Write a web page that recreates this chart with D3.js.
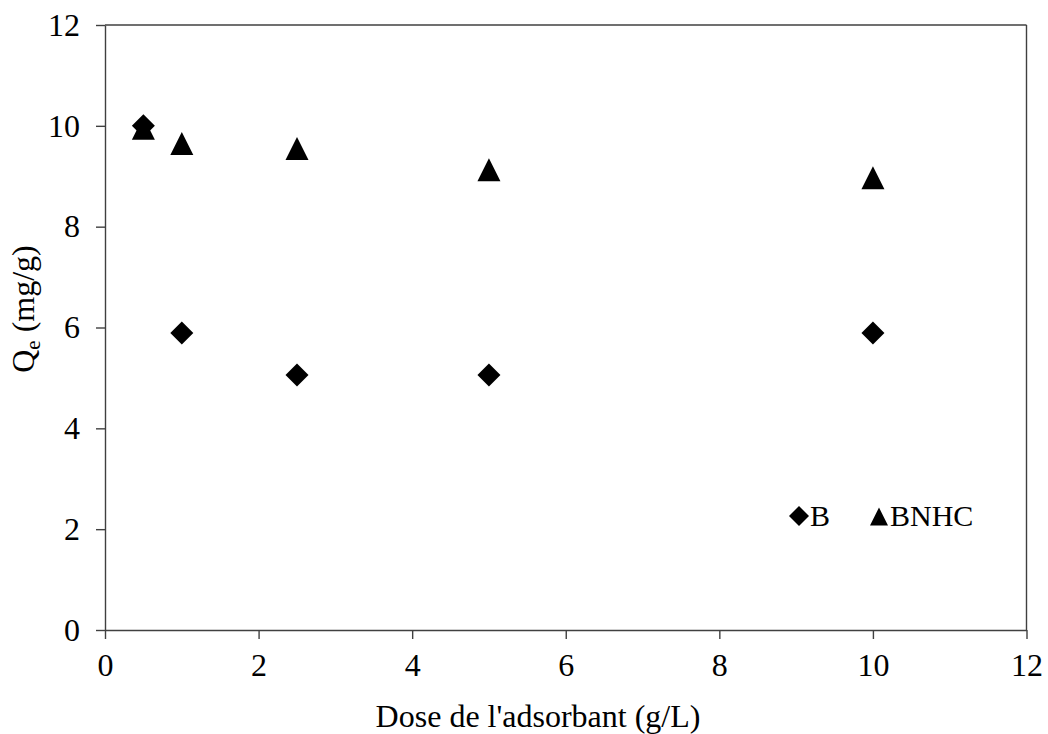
<!DOCTYPE html>
<html>
<head>
<meta charset="utf-8">
<script src="https://cdn.jsdelivr.net/npm/d3@7"></script>
<style>
  html, body { margin: 0; padding: 0; background: #fff; }
  svg { display: block; }
  text { font-family: 'Liberation Serif', 'Times New Roman', serif; fill: #000; }
</style>
</head>
<body>
<svg id="chart" width="1048" height="734"></svg>
<script>
// Adsorbent dose (g/L) and adsorbed quantity Qe (mg/g)
const doses = [0.5, 1, 2.5, 5, 10];
const qeB = [10.0, 5.89, 5.06, 5.06, 5.89];
const qeBNHC = [9.95, 9.65, 9.55, 9.13, 8.97];
const xTicks = [0, 2, 4, 6, 8, 10, 12];
const yTicks = [0, 2, 4, 6, 8, 10, 12];
const seriesNames = ["B", "BNHC"];

const serif = "Liberation Serif, Times New Roman, serif";
const svg = d3.select("#chart");
const plotLeft = 105, plotRight = 1026.5, plotTop = 25, plotBottom = 630;

const x = d3.scaleLinear().domain([0, 12]).range([plotLeft, plotRight]);
const y = d3.scaleLinear().domain([0, 12]).range([plotBottom, plotTop]);

const axisColor = "#404040";

// Frame: top and right edges
svg.append("line").attr("x1", plotLeft).attr("x2", plotRight).attr("y1", plotTop).attr("y2", plotTop)
  .attr("stroke", axisColor).attr("stroke-width", 1.4);
svg.append("line").attr("x1", plotRight).attr("x2", plotRight).attr("y1", plotTop).attr("y2", plotBottom)
  .attr("stroke", axisColor).attr("stroke-width", 1.4);

// X axis
const gx = svg.append("g").attr("transform", `translate(0,${plotBottom})`)
  .call(d3.axisBottom(x).tickValues(xTicks).tickSize(9).tickSizeOuter(0).tickPadding(14));
// Y axis
const gy = svg.append("g").attr("transform", `translate(${plotLeft},0)`)
  .call(d3.axisLeft(y).tickValues(yTicks).tickSize(9).tickSizeOuter(0).tickPadding(16));

[gx, gy].forEach(g => {
  g.attr("font-family", serif).attr("font-size", 32);
  g.select(".domain").attr("stroke", axisColor).attr("stroke-width", 1.4);
  g.selectAll(".tick line").attr("stroke", axisColor).attr("stroke-width", 1.4);
  g.selectAll(".tick text").attr("fill", "#000");
});

// Marker shapes sized by their bounding box
function diamond(s) {
  const h = s / 2, p = d3.path();
  p.moveTo(0, -h); p.lineTo(h, 0); p.lineTo(0, h); p.lineTo(-h, 0); p.closePath();
  return p.toString();
}
function triangle(s) {
  const h = s / 2, p = d3.path();
  p.moveTo(0, -h); p.lineTo(h, h); p.lineTo(-h, h); p.closePath();
  return p.toString();
}

const markSize = 23;

svg.append("g").selectAll("path")
  .data(doses.map((d, i) => ({ d, q: qeBNHC[i] })))
  .join("path")
  .attr("d", triangle(markSize))
  .attr("transform", p => `translate(${x(p.d)},${y(p.q)})`)
  .attr("fill", "#000");

svg.append("g").selectAll("path")
  .data(doses.map((d, i) => ({ d, q: qeB[i] })))
  .join("path")
  .attr("d", diamond(markSize))
  .attr("transform", p => `translate(${x(p.d)},${y(p.q)})`)
  .attr("fill", "#000");

// Legend
const legend = svg.append("g").attr("font-family", serif).attr("font-size", 30);
legend.append("path").attr("d", diamond(20)).attr("transform", "translate(799,516)").attr("fill", "#000");
legend.append("text").attr("x", 810).attr("y", 526).text(seriesNames[0]);
legend.append("path").attr("d", triangle(18)).attr("transform", "translate(879,516.5)").attr("fill", "#000");
legend.append("text").attr("x", 890).attr("y", 526).text(seriesNames[1]);

// Axis titles
svg.append("text").attr("x", 538).attr("y", 727).attr("text-anchor", "middle")
  .attr("font-family", serif).attr("font-size", 32).text("Dose de l'adsorbant (g/L)");

const yt = svg.append("text")
  .attr("transform", "translate(34,309) rotate(-90)")
  .attr("text-anchor", "middle")
  .attr("font-family", serif).attr("font-size", 32);
yt.append("tspan").text("Q");
yt.append("tspan").attr("dy", 6).attr("font-size", 21).text("e");
yt.append("tspan").attr("dy", -6).text(" (mg/g)");
</script>
</body>
</html>
